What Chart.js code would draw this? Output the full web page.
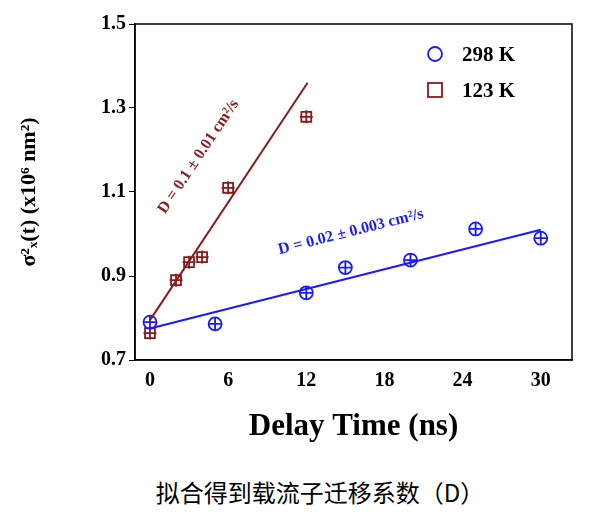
<!DOCTYPE html><html><head><meta charset="utf-8">
<script src="https://cdn.jsdelivr.net/npm/chart.js@4"></script>
<style>body{margin:0;background:#fff;width:600px;height:526px;overflow:hidden}
#c{position:absolute;left:0;top:0}
#cap{position:absolute;left:0;width:600px;top:474px;text-align:center;font:24px "Noto Sans CJK SC";color:#000;padding-left:20px}</style></head><body>
<div style="position:absolute;left:0;top:0;width:600px;height:450px"><canvas id="c"></canvas></div>
<div id="cap">拟合得到载流子迁移系数（D）</div>
<script>
const t298=[0,5,12,15,20,25,30];
const v298=[0.79,0.786,0.86,0.92,0.938,1.012,0.99];
const t123=[0,2,3,4,6,12];
const v123=[0.764,0.89,0.933,0.945,1.11,1.279];
const fit298=[[0,0.775],[30,1.01]];
const fit123=[[0,0.795],[12.1,1.36]];
const xTicks=[0,6,12,18,24,30];
const yTicks=[0.7,0.9,1.1,1.3,1.5];
const blue='#1a1aff',red='#8b1a1a';
const pts=(xs,ys)=>xs.map((x,i)=>({x,y:ys[i]}));
const ds=(data,c,style,extra)=>Object.assign({data,borderColor:c,backgroundColor:'rgba(0,0,0,0)',pointStyle:style,pointRadius:6.5,pointBorderWidth:1.8,showLine:false},extra||{});
const F='"Liberation Serif"';
const labels={id:'lab',afterDatasetsDraw(ch){const x=ch.scales.x,y=ch.scales.y,c=ch.ctx;
 const draw=(t,ax,ay,bx,by,col,px,py)=>{const a=Math.atan2(y.getPixelForValue(by)-y.getPixelForValue(ay),x.getPixelForValue(bx)-x.getPixelForValue(ax));c.save();c.translate(px,py);c.rotate(a);c.fillStyle=col;c.font='bold 16px '+F;c.textAlign='center';c.fillText(t,0,0);c.restore();};
 draw('D = 0.1 ± 0.01 cm²/s',...fit123[0],...fit123[1],red,202,159);
 draw('D = 0.02 ± 0.003 cm²/s',...fit298[0],...fit298[1],blue,352,236);
 c.save();c.font='bold 21px '+F;c.fillStyle='#000';c.lineWidth=1.8;
 c.strokeStyle=blue;c.beginPath();c.arc(435,54,7,0,7);c.stroke();c.fillText('298 K',462,61);
 c.strokeStyle=red;c.strokeRect(428,83,14,14);c.fillText('123 K',462,97);c.restore();}};
new Chart(document.getElementById('c'),{type:'scatter',data:{datasets:[
 {data:fit298.map(p=>({x:p[0],y:p[1]})),showLine:true,borderColor:blue,borderWidth:2,pointRadius:0},
 {data:fit123.map(p=>({x:p[0],y:p[1]})),showLine:true,borderColor:red,borderWidth:2,pointRadius:0},
 ds(pts(t298,v298),blue,'circle'),ds(pts(t298,v298),blue,'cross',{pointRadius:6.5}),
 ds(pts(t123,v123),red,'rect',{pointRadius:7}),ds(pts(t123,v123),red,'cross',{pointRadius:6.5})]},
 options:{responsive:true,maintainAspectRatio:false,animation:false,layout:{padding:{left:12,right:28,top:24,bottom:0}},
 plugins:{legend:{display:false},tooltip:{enabled:false}},
 scales:{x:{type:'linear',min:-1.15,max:32.4,afterBuildTicks:s=>{s.ticks=xTicks.map(v=>({value:v}))},grid:{display:false,drawOnChartArea:false,tickLength:6,color:'#000'},border:{color:'#000',width:1.5},
  ticks:{color:'#000',font:{family:F,weight:'bold',size:20}},title:{display:true,text:'Delay Time (ns)',color:'#000',font:{family:F,weight:'bold',size:31},padding:{top:0}},afterFit:s=>{s.height=90}},
 y:{min:0.7,max:1.5,afterBuildTicks:s=>{s.ticks=yTicks.map(v=>({value:v}))},grid:{display:true,drawOnChartArea:false,tickLength:6,color:'#000'},border:{color:'#000',width:1.5},
  ticks:{color:'#000',font:{family:F,weight:'bold',size:20},callback:v=>v.toFixed(1)},title:{display:true,text:'σ²ₓ(t) (x10⁶ nm²)',color:'#000',font:{family:F,weight:'bold',size:22}},afterFit:s=>{s.width=123}}}},
 plugins:[labels,{id:'box',afterDraw(ch){const a=ch.chartArea,c=ch.ctx;c.save();c.strokeStyle='#000';c.lineWidth=1.5;c.strokeRect(a.left,a.top,a.right-a.left,a.bottom-a.top);c.restore();}}]});
</script></body></html>
